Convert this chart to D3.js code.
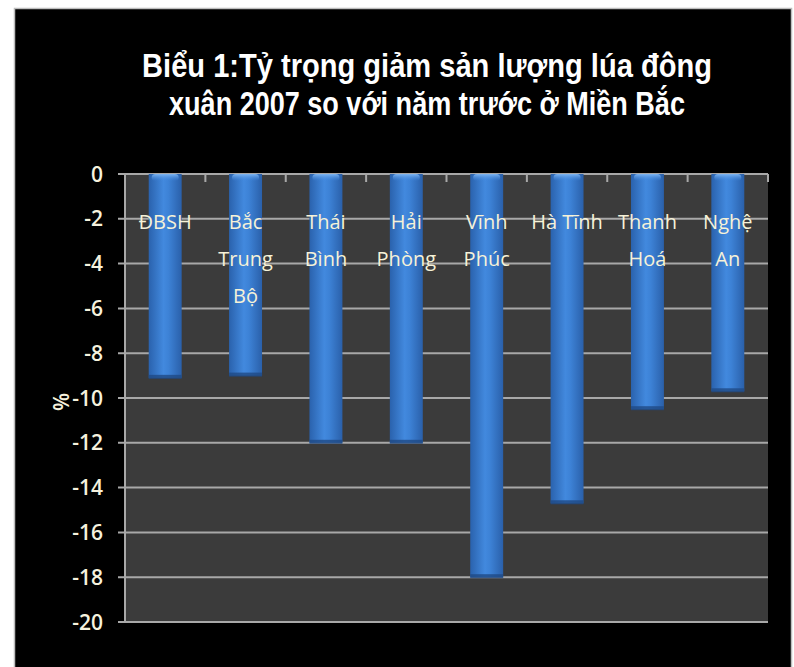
<!DOCTYPE html>
<html>
<head>
<meta charset="utf-8">
<script src="https://cdn.jsdelivr.net/npm/d3@7"></script>
<style>
  html, body { margin: 0; padding: 0; background: #fff; }
  svg { display: block; }
</style>
</head>
<body>
<svg id="chart" width="794" height="667"></svg>
<script>
const categories = ['ĐBSH', 'Bắc Trung Bộ', 'Thái Bình', 'Hải Phòng', 'Vĩnh Phúc', 'Hà Tĩnh', 'Thanh Hoá', 'Nghệ An']
const labelLines = [['ĐBSH'], ['Bắc', 'Trung', 'Bộ'], ['Thái', 'Bình'], ['Hải', 'Phòng'], ['Vĩnh', 'Phúc'], ['Hà Tĩnh'], ['Thanh', 'Hoá'], ['Nghệ', 'An']]
const values = [-9.1, -9.0, -12.0, -12.0, -18.0, -14.7, -10.5, -9.7]
const yTicks = [0, -2, -4, -6, -8, -10, -12, -14, -16, -18, -20]
const titleLines = ['Biểu 1:Tỷ trọng giảm sản lượng lúa đông', 'xuân 2007 so với năm trước ở Miền Bắc']
const titleWidths = [570, 516]

const W = 794, H = 667
const plot = { left: 125, right: 768, top: 174, bottom: 622 }
const svg = d3.select('#chart')

// black frame
svg.append('rect')
  .attr('x', 14.5).attr('y', 8.5)
  .attr('width', 777).attr('height', H)
  .attr('fill', '#000')
  .attr('stroke', '#bdbdbd')
  .attr('stroke-width', 1.5)

const defs = svg.append('defs')
const grad = defs.append('linearGradient').attr('id', 'barGrad')
  .attr('x1', '0%').attr('x2', '100%').attr('y1', '0%').attr('y2', '0%')
grad.append('stop').attr('offset', '0%').attr('stop-color', '#2a62ad')
grad.append('stop').attr('offset', '45%').attr('stop-color', '#4289de')
grad.append('stop').attr('offset', '60%').attr('stop-color', '#3d82d6')
grad.append('stop').attr('offset', '100%').attr('stop-color', '#2a60aa')

const capGrad = defs.append('linearGradient').attr('id', 'capGrad')
  .attr('x1', '0%').attr('x2', '0%').attr('y1', '0%').attr('y2', '100%')
capGrad.append('stop').attr('offset', '0%').attr('stop-color', '#7fb6f2')
capGrad.append('stop').attr('offset', '100%').attr('stop-color', '#4289de').attr('stop-opacity', 0)

// title: bold face squeezed horizontally to look like the condensed original
const titleG = svg.append('g').selectAll('g')
  .data(titleLines)
  .enter()
  .append('g')

titleG.append('text')
  .attr('text-anchor', 'middle')
  .attr('fill', '#fff')
  .attr('font-family', '"Liberation Sans", Arial, sans-serif')
  .attr('font-weight', 'bold')
  .attr('font-size', 33)
  .text(d => d)

titleG.attr('transform', function (d, i) {
  const w = this.querySelector('text').getComputedTextLength()
  const sx = titleWidths[i] / w
  return `translate(427, ${77 + i * 38}) scale(${sx}, 1)`
})

const x = d3.scaleBand()
  .domain(categories)
  .range([plot.left, plot.right])
  .paddingInner(0.59)
  .paddingOuter(0.295)

const y = d3.scaleLinear()
  .domain([0, -20])
  .range([plot.top, plot.bottom])

// plot background
svg.append('rect')
  .attr('x', plot.left).attr('y', plot.top)
  .attr('width', plot.right - plot.left)
  .attr('height', plot.bottom - plot.top)
  .attr('fill', '#3b3b3b')

// gridlines
svg.append('g')
  .selectAll('line')
  .data(yTicks)
  .enter()
  .append('line')
  .attr('x1', plot.left - 7)
  .attr('x2', plot.right)
  .attr('y1', d => y(d))
  .attr('y2', d => y(d))
  .attr('stroke', '#a8a8a8')
  .attr('stroke-width', 2)

// left axis
svg.append('line')
  .attr('x1', plot.left).attr('x2', plot.left)
  .attr('y1', plot.top).attr('y2', plot.bottom)
  .attr('stroke', '#a8a8a8').attr('stroke-width', 2)

// category boundary ticks on the zero line
const step = x.step()
svg.append('g')
  .selectAll('line')
  .data(d3.range(categories.length + 1))
  .enter()
  .append('line')
  .attr('x1', i => plot.left + i * step)
  .attr('x2', i => plot.left + i * step)
  .attr('y1', plot.top)
  .attr('y2', plot.top + 8)
  .attr('stroke', '#a8a8a8')
  .attr('stroke-width', 2)

// y tick labels
svg.append('g')
  .selectAll('text')
  .data(yTicks)
  .enter()
  .append('text')
  .attr('x', 103)
  .attr('y', d => y(d))
  .attr('dy', '0.36em')
  .attr('text-anchor', 'end')
  .attr('fill', '#f6f2de')
  .attr('font-family', '"Open Sans", sans-serif')
  .attr('font-weight', 600)
  .attr('font-size', 21)
  .text(d => d)

// y axis title
svg.append('text')
  .attr('transform', 'translate(62, 402) rotate(-90)')
  .attr('text-anchor', 'middle')
  .attr('dy', '0.35em')
  .attr('fill', '#f6f2de')
  .attr('font-family', '"Open Sans", sans-serif')
  .attr('font-weight', 600)
  .attr('font-size', 21)
  .text('%')

// bars
const bars = svg.append('g')
  .selectAll('g')
  .data(values)
  .enter()
  .append('g')

bars.append('rect')
  .attr('x', (d, i) => x(categories[i]))
  .attr('y', y(0))
  .attr('width', x.bandwidth())
  .attr('height', d => y(d) - y(0))
  .attr('fill', 'url(#barGrad)')

bars.append('rect')
  .attr('x', (d, i) => x(categories[i]) + 3)
  .attr('y', y(0))
  .attr('width', x.bandwidth() - 6)
  .attr('height', 7)
  .attr('rx', 4)
  .attr('fill', 'url(#capGrad)')

bars.append('rect')
  .attr('x', (d, i) => x(categories[i]))
  .attr('y', d => y(d) - 3)
  .attr('width', x.bandwidth())
  .attr('height', 4)
  .attr('fill', '#1f4a85')
  .attr('opacity', 0.8)

// category labels inside plot
const labels = svg.append('g')
  .selectAll('text')
  .data(labelLines)
  .enter()
  .append('text')
  .attr('text-anchor', 'middle')
  .attr('fill', '#f6f2d8')
  .attr('font-family', '"Open Sans", sans-serif')
  .attr('font-size', 20)

labels.selectAll('tspan')
  .data((d, i) => d.map(t => ({ t, i })))
  .enter()
  .append('tspan')
  .attr('x', d => x(categories[d.i]) + x.bandwidth() / 2)
  .attr('y', (d, j) => 229 + j * 37)
  .text(d => d.t)
</script>
</body>
</html>
